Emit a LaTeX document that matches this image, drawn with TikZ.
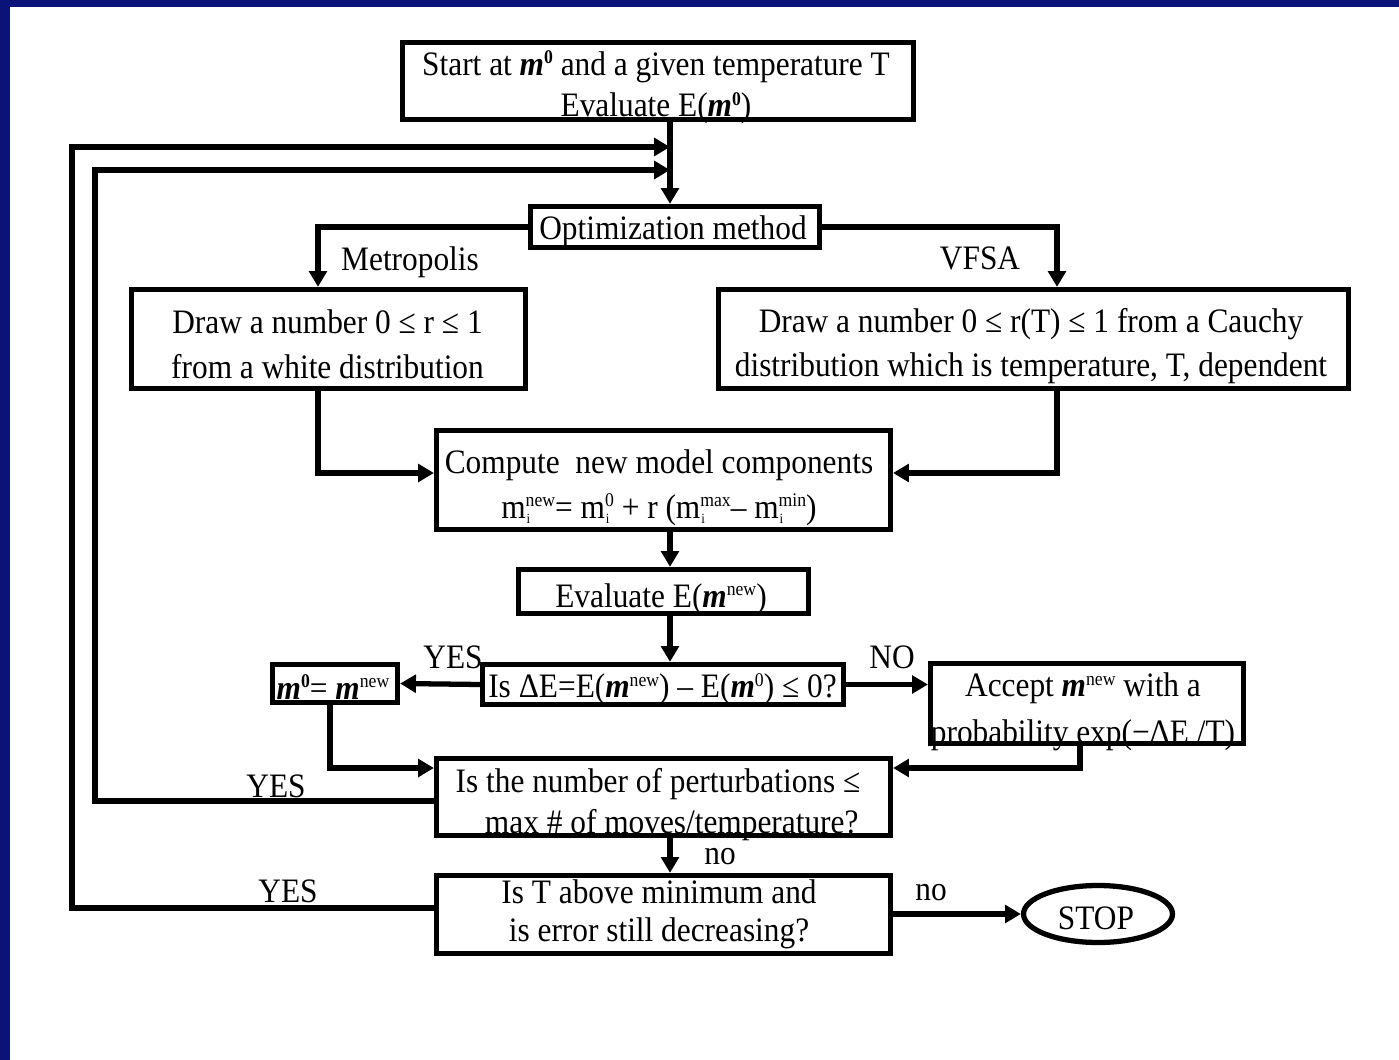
\documentclass[tikz,border=0pt]{standalone}
\usepackage{fontspec}
\setmainfont{Liberation Serif}[FakeStretch=0.915]
\usetikzlibrary{arrows.meta,shapes.geometric}
\definecolor{frameblue}{RGB}{10,20,120}
% bold italic model vector m
\newcommand\bim{\textbf{\textit{m}}}
% small raised index
\newcommand\sups[1]{\raisebox{6.5pt}{\fontsize{11}{11}\selectfont #1}}
% model component m_i with a stacked index
\newcommand\msi[1]{m\rlap{\kern0.5pt\raisebox{-3pt}{\fontsize{8}{8}\selectfont i}}\sups{#1}}
\newcommand\fsz{\fontsize{19.5}{25.5}\selectfont}

\begin{document}
\begin{tikzpicture}[x=0.02cm,y=-0.02cm,
  box/.style={draw, line width=3pt, rectangle, inner sep=0pt},
  txt/.style={inner sep=0pt, align=center, font=\fsz},
  conn/.style={line width=3pt, line join=miter, -{Triangle[length=9pt,width=10pt]}},
  lbl/.style={font=\fsz, inner sep=0pt}]

% page and frame
\useasboundingbox (0,0) rectangle (1399,1060);
\fill[white] (0,0) rectangle (1399,1060);
\fill[frameblue] (0,0) rectangle (1399,7);
\fill[frameblue] (0,0) rectangle (10,1060);

% boxes
\node[box, minimum width=10.22cm, minimum height=1.54cm] (start) at (658,81) {};
\node[box, minimum width=5.78cm, minimum height=0.82cm] (opt) at (675,227) {};
\node[box, minimum width=7.88cm, minimum height=1.98cm] (metro) at (328.5,339) {};
\node[box, minimum width=12.6cm, minimum height=1.98cm] (vfsa) at (1033.5,339) {};
\node[box, minimum width=9.08cm, minimum height=1.98cm] (compute) at (663.5,480) {};
\node[box, minimum width=5.8cm, minimum height=0.88cm] (evalnew) at (663.5,591.5) {};
\node[box, minimum width=7.22cm, minimum height=0.8cm] (dE) at (663,684.5) {};
\node[box, minimum width=2.5cm, minimum height=0.76cm] (mzero) at (335,683.5) {};
\node[box, minimum width=6.26cm, minimum height=1.6cm] (accept) at (1087,703.5) {};
\node[box, minimum width=9.08cm, minimum height=1.54cm] (nmoves) at (663.5,797) {};
\node[box, minimum width=9.08cm, minimum height=1.56cm] (tmin) at (663.5,914.5) {};
\node[draw, ellipse, line width=3pt, inner sep=0pt, minimum width=2.98cm, minimum height=1.14cm]
  (stop) at (1098,914) {};

% box texts
\node[txt] (startT) at (656,87.5)
  {Start at \bim\sups{\textbf{0}} and a given temperature T\\[-2pt] Evaluate E(\bim\sups{\textbf{0}})};
\node[txt] (optT) at (673,231) {Optimization method};
\node[txt] (metroT) at (327.5,344)
  {Draw a number 0 ≤ r ≤ 1\\ from a white distribution};
\node[txt] (vfsaT) at (1031,346)
  {Draw a number 0 ≤ r(T) ≤ 1 from a Cauchy\\ distribution which is temperature, T, dependent};
\node[txt] (computeT) at (659,487.5)
  {Compute\ \ new model components\\ \msi{new}= \msi{0} + r (\msi{max}– \msi{min})};
\node[txt] (evalnewT) at (661,599) {Evaluate E(\bim\sups{new})};
\node[txt] (dET) at (662.5,689) {Is ΔE=E(\bim\sups{new}) – E(\bim\sups{0}) ≤ 0?};
\node[txt] (mzeroT) at (333,687) {\bim\sups{\textbf{0}}= \bim\sups{new}};
\node[txt] (acceptT) at (1083,712)
  {Accept \bim\sups{new} with a\\[1pt] probability exp(−ΔE /T)};
\node[txt] (nmovesT) at (658,804.5)
  {Is the number of perturbations ≤\\[-2pt] \hspace*{0.8em}max \# of moves/temperature?};
\node[txt] (tminT) at (659,914.5)
  {Is T above minimum and\\[-4pt] is error still decreasing?};
\node[txt] (stopT) at (1096,918) {STOP};

% branch labels
\node[lbl] (lmetro) at (410,262) {Metropolis};
\node[lbl] (lvfsa) at (980,258) {VFSA};
\node[lbl] (lyes1) at (453,657) {YES};
\node[lbl] (lno1) at (892,657) {NO};
\node[lbl] (lyes2) at (276,786) {YES};
\node[lbl] (lyes3) at (288,891) {YES};
\node[lbl] (lno2) at (720,857) {no};
\node[lbl] (lno3) at (931,893) {no};

% guide coordinates for the vertical runs
\coordinate (cx) at (670,0);
\coordinate (mx) at (318,0);
\coordinate (vx) at (1057,0);
\coordinate (zx) at (330,0);
\coordinate (ax) at (1080,0);
\coordinate (loopA) at (72,147);
\coordinate (loopB) at (95,170);

% connectors
\draw[conn] (start.south -| cx) -- (opt.north -| cx);
\draw[conn] ([yshift=0.13cm]tmin.west) -| (loopA) -- (loopA -| cx);
\draw[conn] ([yshift=-0.08cm]nmoves.west) -| (loopB) -- (loopB -| cx);
\draw[conn] (opt.west) -| (metro.north -| mx);
\draw[conn] (opt.east) -| (vfsa.north -| vx);
\draw[conn] (metro.south -| mx) |- ([yshift=0.14cm]compute.west);
\draw[conn] (vfsa.south -| vx) |- ([yshift=0.14cm]compute.east);
\draw[conn] (compute.south -| cx) -- (evalnew.north -| cx);
\draw[conn] (evalnew.south -| cx) -- (dE.north -| cx);
\draw[conn] (dE.west) -- (mzero.east);
\draw[conn] (dE.east) -- (dE.east -| accept.west);
\draw[conn] (mzero.south -| zx) |- ([yshift=0.58cm]nmoves.west);
\draw[conn] (accept.south -| ax) |- ([yshift=0.58cm]nmoves.east);
\draw[conn] (nmoves.south -| cx) -- (tmin.north -| cx);
\draw[conn] (tmin.east |- stop.west) -- (stop.west);
\end{tikzpicture}
\end{document}
